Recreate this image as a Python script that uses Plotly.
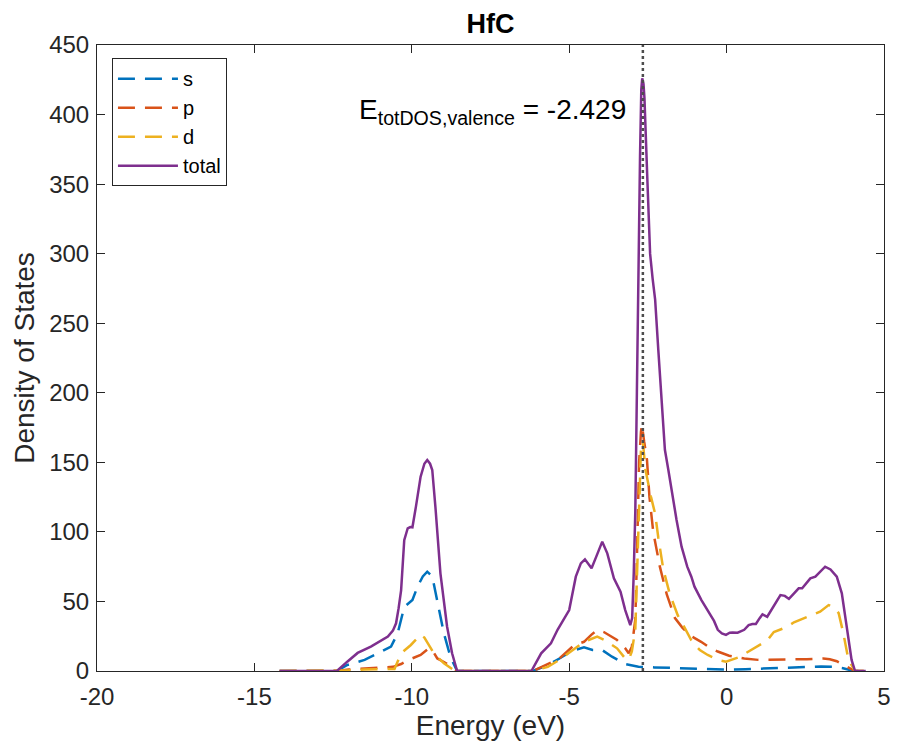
import plotly.graph_objects as go

# ---------------- data ----------------
total_E = [-14.2, -12.38, -12.05, -11.72, -11.3, -10.97, -10.76, -10.6, -10.5, -10.42, -10.34, -10.24,
           -10.13, -10.05, -9.98, -9.87, -9.72, -9.6, -9.51, -9.42, -9.35, -9.25, -9.09, -8.88, -8.72, -8.56,
           -6.2, -5.89, -5.58, -5.37, -5.16, -5.0, -4.79, -4.63, -4.5, -4.29, -4.14, -3.95, -3.79, -3.58,
           -3.37, -3.22, -3.06, -3.0, -2.95, -2.9, -2.85, -2.8, -2.75, -2.71, -2.68, -2.64, -2.61, -2.52,
           -2.43, -2.35, -2.27, -2.17, -2.06, -1.96, -1.85, -1.72, -1.59, -1.43, -1.25, -1.12, -1.02, -0.8,
           -0.6, -0.4, -0.28, -0.15, -0.02, 0.1, 0.19, 0.35, 0.56, 0.7, 0.82, 0.93, 1.05, 1.14, 1.29, 1.5,
           1.71, 1.85, 1.98, 2.15, 2.29, 2.4, 2.55, 2.66, 2.82, 3.0, 3.13, 3.3, 3.5, 3.66, 3.82, 3.97, 4.08, 4.42]
total_dos = [0, 0, 6.7, 13, 17.5, 22, 24.7, 29, 34.3, 45, 58, 94,
             102.6, 103.5, 103.3, 118, 139.7, 149, 151.7, 149, 144.5, 118, 70, 32, 12.7, 0,
             0, 12.7, 19.9, 29.6, 37.8, 43.8, 67.8, 77.4, 80.3, 73.8, 82.2, 93, 84.6, 66.7,
             57, 43.8, 33, 38, 70, 115, 200, 295, 370, 418, 426, 422, 412, 355,
             300, 282, 267, 231, 195, 159, 144.5, 125, 108.6, 89.4, 75, 67.8, 60.6, 51,
             44, 36, 29.6, 27, 26, 27.5, 27.6, 27.5, 29.6, 33, 33.8, 33.8, 38, 40.8, 39, 47,
             54.6, 54, 51.8, 56, 59.4, 59.4, 64, 66.6, 67.8, 72, 75, 73, 67.8, 55.8, 32, 8, 0, 0]

s_E = [-14.2, -12.38, -12.05, -11.5, -10.97, -10.66, -10.45, -10.24, -9.98, -9.82, -9.65, -9.51, -9.35,
       -9.19, -8.98, -8.77, -8.56, -6.15, -5.68, -5.31, -4.89, -4.53, -4.26, -3.95, -3.64, -3.22, -2.8,
       -2.3, -1.8, -1.2, -0.6, 0.0, 0.6, 1.2, 1.8, 2.4, 3.0, 3.4, 3.7, 3.95, 4.08, 4.42]
s_dos = [0, 0, 4.3, 8, 13.9, 17.5, 27, 46, 51, 60.6, 68, 71.4, 68,
         51, 27, 10, 0, 0, 4.3, 9, 14.6, 17, 15.1, 15, 10.3, 5, 3.1,
         2.6, 2.2, 1.8, 1.2, 1.0, 1.3, 1.8, 2.2, 2.8, 3.2, 3.0, 2.0, 0.5, 0, 0]

p_E = [-14.2, -12.38, -12.0, -11.5, -11.0, -10.6, -10.34, -10.1, -9.72, -9.46, -9.35, -9.19, -8.98, -8.67,
       -8.56, -6.15, -5.68, -5.31, -4.84, -4.53, -4.3, -4.11, -3.9, -3.48, -3.22, -3.11, -3.01, -2.9, -2.85,
       -2.78, -2.72, -2.69, -2.62, -2.53, -2.45, -2.33, -2.12, -1.9, -1.64, -1.4, -1.12, -0.81, -0.55,
       -0.28, 0.08, 0.56, 1.0, 1.5, 2.0, 2.55, 3.07, 3.28, 3.5, 3.76, 4.08, 4.42]
p_dos = [0, 0, 1, 1.5, 2.5, 3, 5, 8, 11.5, 16.3, 15, 9, 6.5, 2,
         0, 0, 5, 9, 18.6, 21, 26, 29.5, 28, 22.3, 16.3, 12.7, 17.5, 37, 80,
         150, 172, 177, 165, 152, 125, 100, 75, 55, 38, 31, 25, 21, 17,
         14, 11, 9, 8, 8, 8, 8.5, 9, 8.5, 7, 4, 0, 0]

d_E = [-14.2, -12.38, -12.0, -11.5, -11.0, -10.55, -10.34, -10.03, -9.72, -9.6, -9.3, -8.98, -8.67, -8.56,
       -6.15, -5.68, -5.31, -4.84, -4.53, -4.11, -3.85, -3.48, -3.22, -3.11, -3.01, -2.9, -2.85, -2.78,
       -2.72, -2.66, -2.58, -2.4, -2.27, -2.17, -2.01, -1.8, -1.55, -1.33, -1.12, -0.85, -0.6, -0.28,
       -0.02, 0.4, 0.87, 1.29, 1.5, 1.92, 2.14, 2.66, 2.97, 3.24, 3.4, 3.56, 3.71, 3.87, 4.08, 4.42]
d_dos = [0, 0, 0.5, 1, 1.5, 1.5, 12.7, 18.7, 26, 24, 12.7, 5.5, 0.7, 0,
         0, 3, 8, 16, 21, 24.7, 21.9, 16.3, 9, 8, 14, 30, 70, 130,
         160, 165, 145, 125, 113, 96, 73, 55, 40, 31, 22, 15, 11.5, 8,
         6.7, 10, 16.3, 22, 28, 31.7, 35, 40, 42.6, 47.4, 46, 41.6, 27, 8, 0, 0]

x_tickvals = [-20, -15, -10, -5, 0, 5]
x_ticktext = ["-20", "-15", "-10", "-5", "0", "5"]
y_tickvals = [0, 50, 100, 150, 200, 250, 300, 350, 400, 450]
y_ticktext = ["0", "50", "100", "150", "200", "250", "300", "350", "400", "450"]

e_valence_line = -2.66
e_valence_text = "-2.429"
y_range = [0, 450]
x_range = [-20, 5]

# ---------------- figure ----------------
FONT = "Liberation Sans, Arial, Helvetica, sans-serif"
AX = "#262626"
DASH = "17px,10px"

fig = go.Figure()
fig.add_trace(go.Scatter(x=s_E, y=s_dos, mode="lines", name="s",
                         line=dict(color="#0072BD", width=2.5, dash=DASH)))
fig.add_trace(go.Scatter(x=p_E, y=p_dos, mode="lines", name="p",
                         line=dict(color="#D95319", width=2.5, dash=DASH)))
fig.add_trace(go.Scatter(x=d_E, y=d_dos, mode="lines", name="d",
                         line=dict(color="#EDB120", width=2.5, dash=DASH)))
fig.add_trace(go.Scatter(x=total_E, y=total_dos, mode="lines", name="total",
                         line=dict(color="#7E2F8E", width=2.5)))
fig.add_trace(go.Scatter(x=[e_valence_line, e_valence_line], y=y_range, mode="lines",
                         showlegend=False, hoverinfo="skip",
                         line=dict(color="#4d4d4d", width=2.5, dash="dot")))

fig.add_annotation(x=-7.45, y=402, xref="x", yref="y", showarrow=False,
                   text="E<sub>totDOS,valence</sub> = " + e_valence_text,
                   font=dict(family=FONT, size=28, color="black"),
                   xanchor="center", yanchor="middle")

axis_common = dict(showline=True, linecolor=AX, linewidth=1, mirror="allticks",
                   ticks="inside", ticklen=8, tickwidth=1, tickcolor=AX,
                   showgrid=False, zeroline=False,
                   tickfont=dict(family=FONT, size=24, color=AX))

fig.update_xaxes(range=x_range, tickmode="array", tickvals=x_tickvals, ticktext=x_ticktext,
                 title=dict(text="Energy (eV)", font=dict(family=FONT, size=28, color=AX), standoff=6),
                 ticklabelstandoff=4, **axis_common)
fig.update_yaxes(range=y_range, tickmode="array", tickvals=y_tickvals, ticktext=y_ticktext,
                 title=dict(text="Density of States", font=dict(family=FONT, size=28, color=AX), standoff=6),
                 ticklabelstandoff=2, **axis_common)

fig.update_layout(
    width=902, height=746,
    margin=dict(l=97, r=11, t=45, b=75),
    paper_bgcolor="white", plot_bgcolor="white",
    title=dict(text="<b>HfC</b>", x=0.5, xanchor="center", xref="paper",
               y=0.968, yanchor="middle",
               font=dict(family=FONT, size=27, color="black")),
    legend=dict(x=0.019, y=0.979, xanchor="left", yanchor="top",
                bgcolor="white", bordercolor=AX, borderwidth=1,
                font=dict(family=FONT, size=20, color="black"),
                itemwidth=60, tracegroupgap=0),
    showlegend=True,
)

fig.write_html("out.html")
